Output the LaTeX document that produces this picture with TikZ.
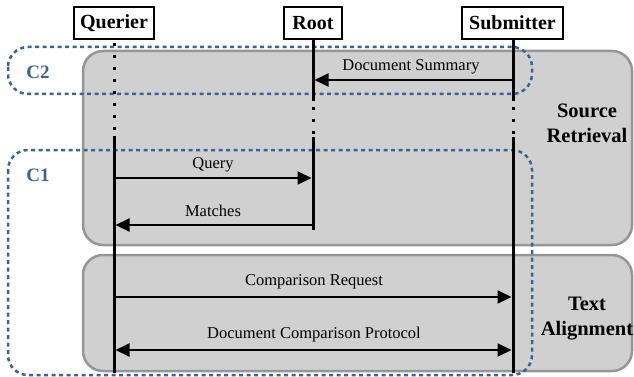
\documentclass[tikz,border=0pt]{standalone}
\usepackage{fontspec}
\setmainfont{Liberation Serif}
\usetikzlibrary{arrows.meta}
\definecolor{cblue}{RGB}{58,100,152}
\definecolor{phase}{RGB}{208,208,208}
\definecolor{phaseedge}{RGB}{150,150,150}
\begin{document}
\begin{tikzpicture}[x=1pt,y=-1pt,
 actor/.style={draw, line width=1.8pt, fill=white, font=\fontsize{20}{23}\selectfont\bfseries, inner sep=0pt, minimum height=32pt},
 phasebox/.style={fill=phase, draw=phaseedge, line width=2.5pt, rounded corners=20pt},
 group/.style={draw=cblue, line width=2.5pt, dash pattern=on 4pt off 3.5pt, rounded corners=20pt},
 life/.style={line width=3pt},
 lifedot/.style={line width=3pt, dash pattern=on 3pt off 9pt},
 msg/.style={line width=2pt, -{Triangle[length=14pt,width=13pt]}, shorten >=1.5pt, shorten <=1.5pt},
 msgboth/.style={line width=2pt, {Triangle[length=14pt,width=13pt]}-{Triangle[length=14pt,width=13pt]}, shorten >=1.5pt, shorten <=1.5pt},
 msglabel/.style={font=\fontsize{16.5}{19}\selectfont, inner sep=0pt},
 phaselabel/.style={font=\fontsize{20.5}{25}\selectfont\bfseries, align=center, inner sep=0pt},
 glabel/.style={text=cblue, font=\fontsize{19}{22}\selectfont\bfseries, inner sep=0pt}
]
\useasboundingbox (0,0) rectangle (634,377);
% phases
\draw[phasebox] (83,51) rectangle (632,245);
\draw[phasebox] (83,255) rectangle (632,371);
\node[phaselabel] (sr) at (587,123) {Source\\Retrieval};
\node[phaselabel] (ta) at (587,319) {Text\\Alignment};
% groups
\draw[group] (8,47) rectangle (532,94);
\draw[group] (8,150) rectangle (532,375);
\node[glabel] (c2) at (38,72) {C2};
\node[glabel] (c1) at (38,175) {C1};
% actors
\node[actor, minimum width=80pt] (querier) at (114,23) {Querier};
\node[actor, minimum width=58pt] (root) at (313,23) {Root};
\node[actor, minimum width=101pt] (submitter) at (512.5,23) {Submitter};
% lifelines
\coordinate (q1) at (114,136);
\coordinate (qend) at (114,373);
\coordinate (r1) at (313,101);
\coordinate (r2) at (313,137);
\coordinate (rend) at (313,230);
\coordinate (s1) at (513,101);
\coordinate (s2) at (513,137);
\coordinate (send) at (513,373);
\draw[lifedot] (querier.south) ++(0,3) -- (q1);
\draw[life] (q1) -- (qend);
\draw[life] (root.south) -- (r1);
\draw[lifedot] (313,107) -- (r2);
\draw[life] (r2) -- (rend);
\draw[life] (submitter.south -| s1) -- (s1);
\draw[lifedot] (513,107) -- (s2);
\draw[life] (s2) -- (send);
% messages
\coordinate (sDS) at (513,80);
\coordinate (rDS) at (313,80);
\coordinate (qQ) at (114,178);
\coordinate (rQ) at (313,178);
\coordinate (qM) at (114,225);
\coordinate (rM) at (313,225);
\coordinate (qCR) at (114,297);
\coordinate (sCR) at (513,297);
\coordinate (qCP) at (114,350);
\coordinate (sCP) at (513,350);
\draw[msg] (sDS) -- (rDS);
\draw[msg] (qQ) -- (rQ);
\draw[msg] (rM) -- (qM);
\draw[msg] (qCR) -- (sCR);
\draw[msgboth] (qCP) -- (sCP);
\node[msglabel] (lDS) at (411,67) {Document Summary};
\node[msglabel] (lQ) at (213,165) {Query};
\node[msglabel] (lM) at (213,211) {Matches};
\node[msglabel] (lCR) at (314,282) {Comparison Request};
\node[msglabel] (lCP) at (314,335) {Document Comparison Protocol};
\end{tikzpicture}
\end{document}
